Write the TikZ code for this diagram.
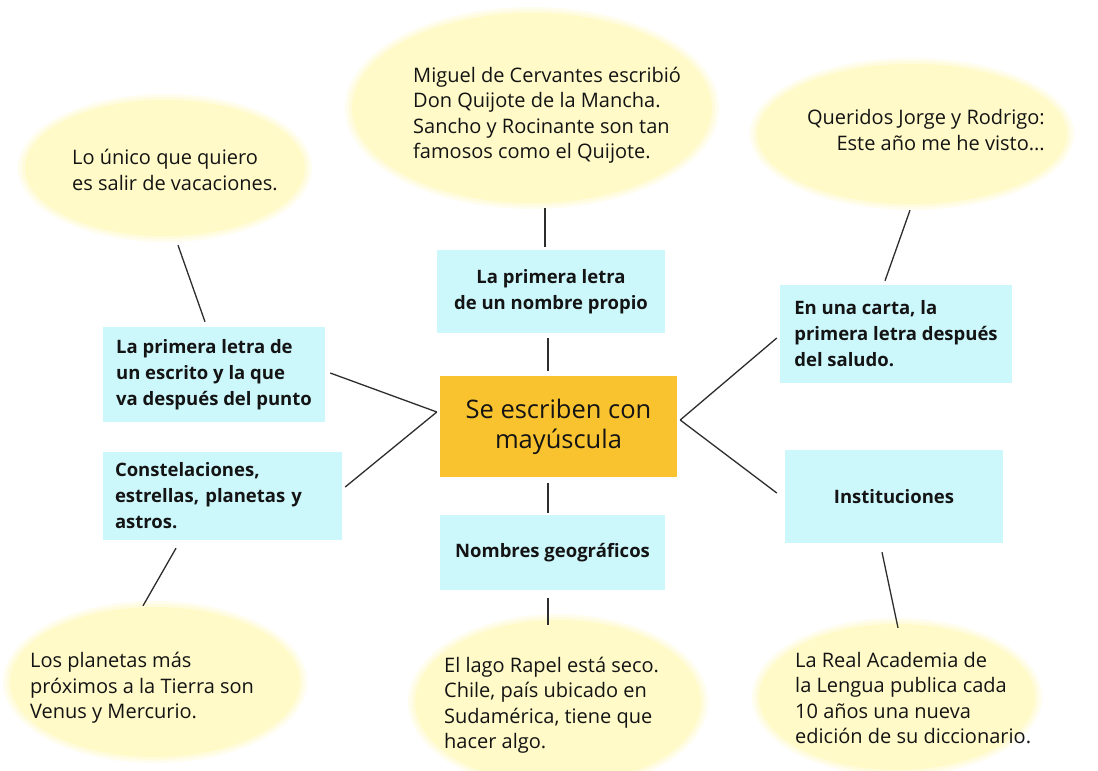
\documentclass[tikz,border=0pt]{standalone}
\usepackage{fontspec}
\setmainfont{Open Sans}
\usetikzlibrary{shapes.geometric,calc}
\definecolor{ellY}{RGB}{255,250,200}
\definecolor{boxC}{RGB}{204,248,252}
\definecolor{orangeC}{RGB}{249,195,48}
\definecolor{inkC}{RGB}{20,20,20}
\definecolor{lineC}{RGB}{45,45,45}
\newcommand\softell[5]{%
  \fill[ellY!30] (#2,#3) ellipse [x radius=#4+7, y radius=#5+6];
  \fill[ellY!60] (#2,#3) ellipse [x radius=#4+3.5, y radius=#5+3];
  \node[ellipse, fill=ellY, minimum width={2*#4}, minimum height={2*#5}, inner sep=0pt] (#1) at (#2,#3) {};
}
\tikzset{
  elltext/.style={text=inkC, font=\fontsize{20}{25.5}\selectfont, inner sep=0pt},
  cbox/.style={rectangle, fill=boxC, inner sep=0pt, text=inkC, font=\fontsize{18.5}{26}\selectfont\bfseries},
  leftbox/.style={cbox, align=left},
  midbox/.style={cbox, align=center},
  conn/.style={draw=lineC, line width=1.3pt},
}
\begin{document}
\begin{tikzpicture}[x=1pt,y=-1pt]
\fill[white] (0,0) rectangle (1098,771);
\useasboundingbox (0,0) rectangle (1098,771);

% ellipses
\softell{ell1}{165}{168}{140}{68}
\softell{ell2}{532}{108}{180}{95}
\softell{ell3}{912}{134}{155}{70}
\softell{ell4}{155}{682}{145}{75}
\softell{ell5}{558}{702}{143}{82}
\softell{ell6}{897}{697}{138}{73}

\node[elltext, anchor=west, align=left] (t1) at (72,170) {Lo único que quiero\\es salir de vacaciones.};
\node[elltext, anchor=west, align=left] (t2) at (413,115) {Miguel de Cervantes escribió\\Don Quijote de la Mancha.\\Sancho y Rocinante son tan\\famosos como el Quijote.};
\node[elltext, anchor=east, align=right] (t3) at (1045,130) {Queridos Jorge y Rodrigo:\\Este año me he visto...};
\node[elltext, anchor=west, align=left] (t4) at (30,688) {Los planetas más\\próximos a la Tierra son\\Venus y Mercurio.};
\node[elltext, anchor=west, align=left] (t5) at (444,705) {El lago Rapel está seco.\\Chile, país ubicado en\\Sudamérica, tiene que\\hacer algo.};
\node[elltext, anchor=west, align=left] (t6) at (795,698) {La Real Academia de\\la Lengua publica cada\\10 años una nueva\\edición de su diccionario.};

% boxes
\node[midbox, minimum width=228pt, minimum height=83pt] (boxA) at (551,291.5) {La primera letra\\de un nombre propio};
\node[leftbox, minimum width=222pt, minimum height=95pt] (boxB) at (214,374.5) {La primera letra de\\un escrito y la que\\va después del punto};
\node[leftbox, text width=215pt, inner xsep=12pt, minimum height=88pt] (boxC) at (222.5,496) {Constelaciones,\\estrellas, planetas y\\astros.};
\node[midbox, minimum width=225pt, minimum height=75pt] (boxD) at (552.5,552.5) {Nombres geográficos};
\node[leftbox, minimum width=232pt, minimum height=98pt] (boxE) at (896,334) {En una carta, la\\primera letra después\\del saludo.};
\node[midbox, minimum width=218pt, minimum height=93pt] (boxF) at (894,496.5) {Instituciones};
\node[rectangle, fill=orangeC, inner sep=0pt, minimum width=237pt, minimum height=101pt, align=center, text=inkC, font=\fontsize{25.5}{30}\selectfont] (center) at (558.5,426.5) {Se escriben con\\mayúscula};

% connectors
\draw[conn] ($(ell2.south)+(13,5)$) -- ($(boxA.north)+(-6,-3)$);
\draw[conn] ($(boxA.south)+(-3,5)$) -- ($(center.north)+(-10.5,-5)$);
\draw[conn] ($(ell1.south)+(13,9)$) -- ($(boxB.north)+(-9,-5)$);
\draw[conn] ($(boxB.east)+(5,-1.5)$) -- ($(center.west)+(-3,-14.5)$);
\draw[conn] ($(boxC.east)+(3,-9)$) -- ($(center.west)+(-3,-14.5)$);
\draw[conn] ($(center.east)+(3,-6.5)$) -- ($(boxE.west)+(-3,4)$);
\draw[conn] ($(center.east)+(3,-6.5)$) -- ($(boxF.west)+(-8,-3.5)$);
\draw[conn] ($(boxC.south)+(-46.5,8)$) -- ($(ell4.north)+(-12,-1)$);
\draw[conn] ($(center.south)+(-10.5,6)$) -- ($(boxD.north)+(-4.5,-2)$);
\draw[conn] ($(boxD.south)+(-4.5,8)$) -- ($(ell5.north)+(-10,5)$);
\draw[conn] ($(ell3.south)+(-2,6)$) -- ($(boxE.north)+(-11,-4)$);
\draw[conn] ($(boxF.south)+(-12,9)$) -- ($(ell6.north)+(1,4)$);
\end{tikzpicture}
\end{document}
